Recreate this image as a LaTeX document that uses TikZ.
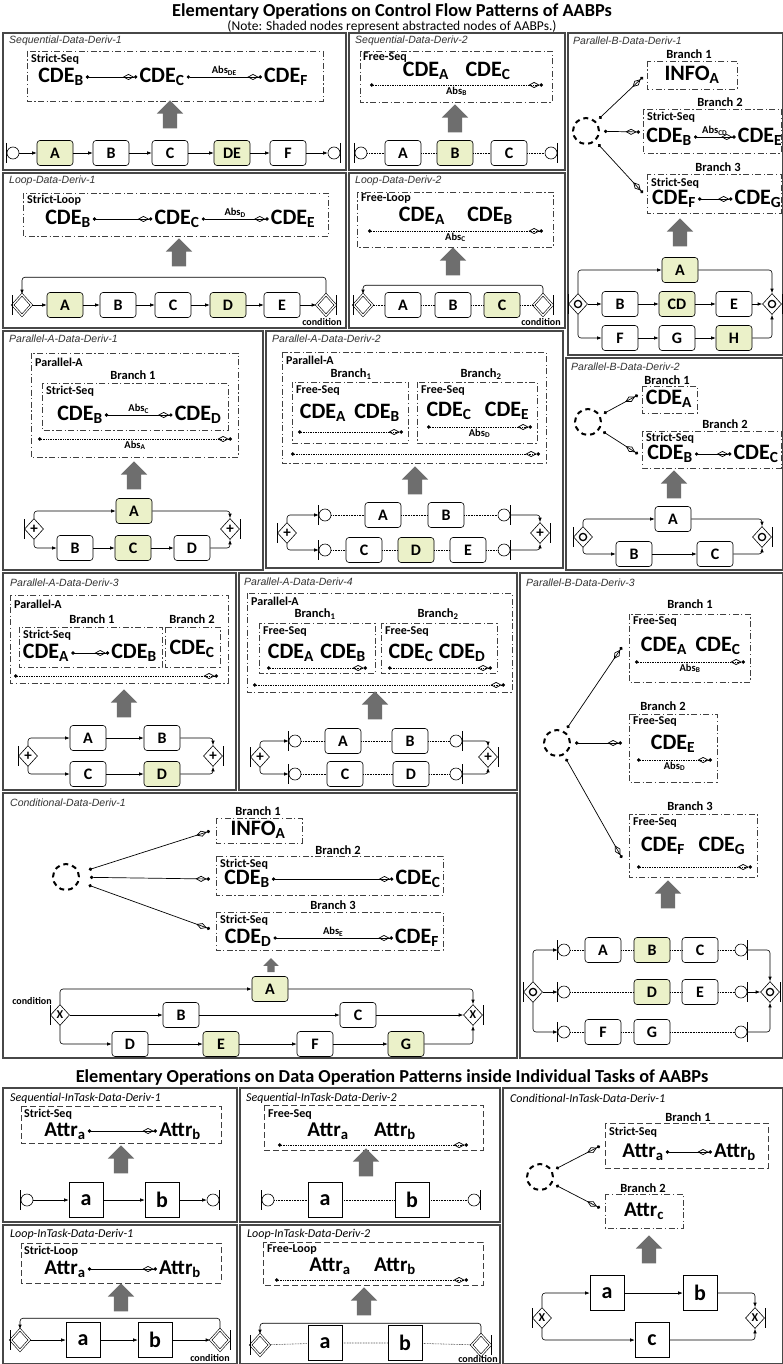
\documentclass[tikz,border=0pt]{standalone}
\usepackage{fontspec}
\setmainfont{Carlito}
\newfontfamily\arialfont{Liberation Sans}
\usetikzlibrary{arrows.meta, shapes.geometric, shapes.arrows}
\definecolor{shade}{RGB}{235,241,201}
\definecolor{arrgray}{RGB}{110,110,110}

\begin{document}
\begin{tikzpicture}[x=1pt, y=-1pt,
    panel/.style={draw=black!72, line width=1.1pt},
    frm/.style={draw=black!75, line width=0.6pt, dash pattern=on 6pt off 2.5pt on 1.2pt off 2.5pt},
    frmd/.style={draw=black!75, line width=0.6pt, dash pattern=on 6pt off 3pt},
    ptitle/.style={anchor=west, inner sep=0pt, text=black!80, font=\arialfont\itshape\fontsize{10.5}{11}\selectfont},
    ptitleb/.style={anchor=west, inner sep=0pt, font=\itshape\fontsize{12}{12}\selectfont},
    head/.style={anchor=base, font=\bfseries\fontsize{18.3}{19}\selectfont},
    note/.style={anchor=base, font=\fontsize{13.5}{14}\selectfont},
    tag/.style={anchor=west, inner sep=0pt, font=\bfseries\fontsize{12}{12}\selectfont},
    brl/.style={inner sep=0pt, font=\bfseries\fontsize{12.5}{12.5}\selectfont},
    cde/.style={inner sep=2pt, font=\bfseries\fontsize{22}{22}\selectfont},
    attr/.style={inner sep=2pt, font=\bfseries\fontsize{21}{21}\selectfont},
    abs/.style={inner sep=1.5pt, font=\bfseries\fontsize{10.5}{10.5}\selectfont},
    cond/.style={inner sep=0pt, font=\bfseries\fontsize{10}{10}\selectfont},
    task/.style={draw, rounded corners=3pt, fill=white, minimum width=36, minimum height=25, inner sep=0pt, line width=0.6pt, font=\bfseries\fontsize{16}{16}\selectfont},
    sqtask/.style={draw, fill=white, minimum width=34, minimum height=35, inner sep=0pt, line width=0.6pt, font=\bfseries\fontsize{22}{22}\selectfont},
    shd/.style={fill=shade},
    ev/.style={circle, draw, fill=white, minimum size=12, inner sep=0pt, line width=0.6pt},
    gw/.style={diamond, draw, fill=white, minimum width=19, minimum height=21, inner sep=0pt, line width=0.6pt},
    pgw/.style={gw, font=\bfseries\fontsize{15}{15}\selectfont},
    xgw/.style={gw, font=\bfseries\fontsize{12}{12}\selectfont},
    orgw/.style={gw, path picture={\draw[line width=1.3pt] (path picture bounding box.center) circle[radius=3.6pt];}},
    lgw/.style={gw, double, double distance=1.3pt},
    barL/.style={append after command={([yshift=10pt]\tikzlastnode.west) edge[line width=0.6pt] ([yshift=-10pt]\tikzlastnode.west)}},
    barR/.style={append after command={([yshift=10pt]\tikzlastnode.east) edge[line width=0.6pt] ([yshift=-10pt]\tikzlastnode.east)}},
    dcirc/.style={circle, draw, line width=2pt, dash pattern=on 5pt off 4pt, minimum size=26, inner sep=0pt, outer sep=5pt},
    bigup/.style={single arrow, fill=arrgray, draw=none, inner sep=7pt, minimum height=28, minimum width=0pt, single arrow head extend=6pt, shape border rotate=90},
    smallup/.style={single arrow, fill=arrgray, draw=none, inner sep=3.5pt, minimum height=14, minimum width=0pt, single arrow head extend=4pt, shape border rotate=90},
    cf/.style={-{Latex[length=4.5pt,width=3.5pt]}, line width=0.6pt, rounded corners=3pt},
    df/.style={line width=0.6pt, densely dotted},
    dlink/.style={{Circle[length=3.4pt]}-{Diamond[open,length=11pt,width=6pt]Circle[length=3.4pt]}, line width=0.7pt},
    dlinkd/.style={dlink, densely dotted}
]
    \useasboundingbox (0,0) rectangle (783,1364);
    \fill[white] (0,0) rectangle (783,1364);

    % === Titles ===
    \node[head] (title1) at (392,17) {Elementary Operations on Control Flow Patterns of AABPs};
    \node[note] (note1) at (392,30.5) {(Note: Shaded nodes represent abstracted nodes of AABPs.)};

    % === Sequential-Data-Deriv-1 ===
    \draw[panel] (3,33) rectangle (346,170);
    \node[ptitle] (sq1t) at (9,41) {Sequential-Data-Deriv-1};
    \draw[frm] (27,51) rectangle (323,101);
    \node[tag] (sq1k) at (31,59) {Strict-Seq};
    \node[cde] (sq1b) at (61,77) {CDE\textsubscript{B}};
    \node[cde] (sq1c) at (162,77) {CDE\textsubscript{C}};
    \node[cde] (sq1f) at (286,77) {CDE\textsubscript{F}};
    \draw[dlink] (sq1b) -- (sq1c);
    \draw[dlink] (sq1c) -- node[abs, above] {Abs\textsubscript{DE}} (sq1f);
    \node[bigup] (sq1u) at (170,118) {};
    \node[ev, barL] (sq1s) at (13,153) {};
    \node[task, shd] (sq1A) at (55,153) {A};
    \node[task] (sq1B) at (111,153) {B};
    \node[task] (sq1C) at (170,153) {C};
    \node[task, shd] (sq1D) at (232,153) {DE};
    \node[task] (sq1F) at (288,153) {F};
    \node[ev, barR] (sq1e) at (334,153) {};
    \draw[cf] (sq1s) edge (sq1A) (sq1A) edge (sq1B) (sq1B) edge (sq1C)
        (sq1C) edge (sq1D) (sq1D) edge (sq1F) (sq1F) edge (sq1e);

    % === Sequential-Data-Deriv-2 ===
    \draw[panel] (349,33) rectangle (565,170);
    \node[ptitle] (sq2t) at (355,41) {Sequential-Data-Deriv-2};
    \draw[frm] (360,51) rectangle (552,102);
    \node[tag] (sq2k) at (363,58) {Free-Seq};
    \node[cde] (sq2a) at (426,71) {CDE\textsubscript{A}};
    \node[cde] (sq2c) at (488,71) {CDE\textsubscript{C}};
    \coordinate (sq2l) at (370,85);
    \coordinate (sq2r) at (543,85);
    \draw[dlinkd] (sq2l) -- node[abs, below] {Abs\textsubscript{B}} (sq2r);
    \node[bigup] (sq2u) at (455,122) {};
    \node[ev, barL] (sq2s) at (361,153) {};
    \node[task] (sq2A) at (403,153) {A};
    \node[task, shd] (sq2B) at (455,153) {B};
    \node[task] (sq2C) at (509,153) {C};
    \node[ev, barR] (sq2e) at (551,153) {};
    \draw[df] (sq2s) -- (sq2A) (sq2A) -- (sq2B) (sq2B) -- (sq2C) (sq2C) -- (sq2e);

    % === Parallel-B-Data-Deriv-1 ===
    \draw[panel] (568,33) rectangle (783,355);
    \node[ptitle] (pb1t) at (573,41) {Parallel-B-Data-Deriv-1};
    \node[dcirc] (pb1o) at (586,131) {};
    % Branch 1
    \node[brl] (pb1l1) at (689,54) {Branch 1};
    \draw[frm] (647,61) rectangle (737,89);
    \node[cde] (pb1i) at (692,75) {INFO\textsubscript{A}};
    \coordinate (pb1x1) at (643,77);
    \draw[dlink] (pb1o) -- (pb1x1);
    % Branch 2
    \node[brl] (pb1l2) at (720,102) {Branch 2};
    \draw[frm] (643,109) rectangle (781,153);
    \node[tag] (pb1k2) at (647,117) {Strict-Seq};
    \node[cde] (pb1b) at (669,137) {CDE\textsubscript{B}};
    \node[cde] (pb1e) at (760,137) {CDE\textsubscript{E}};
    \draw[dlink] (pb1b) -- node[abs, above] {Abs\textsubscript{CD}} (pb1e);
    \coordinate (pb1x2) at (640,132);
    \draw[dlink] (pb1o) -- (pb1x2);
    % Branch 3
    \node[brl] (pb1l3) at (718,167) {Branch 3};
    \draw[frm] (647,174) rectangle (781,213);
    \node[tag] (pb1k3) at (651,183) {Strict-Seq};
    \node[cde] (pb1f) at (674,199) {CDE\textsubscript{F}};
    \node[cde] (pb1g) at (758,199) {CDE\textsubscript{G}};
    \draw[dlink] (pb1f) -- (pb1g);
    \coordinate (pb1x3) at (643,193);
    \draw[dlink] (pb1o) -- (pb1x3);
    \node[bigup] (pb1u) at (680,236) {};
    % process
    \node[task, shd] (pb1A) at (680,270) {A};
    \node[orgw, barL] (pb1s) at (578,304) {};
    \node[task] (pb1B) at (620,304) {B};
    \node[task, shd] (pb1C) at (677,304) {CD};
    \node[task] (pb1E) at (734,304) {E};
    \node[orgw, barR] (pb1j) at (772,304) {};
    \node[task] (pb1F) at (620,338) {F};
    \node[task] (pb1G) at (677,338) {G};
    \node[task, shd] (pb1H) at (734,338) {H};
    \draw[cf] (pb1s.north) |- (pb1A);
    \draw[cf] (pb1A) -| (pb1j.north);
    \draw[cf] (pb1s) edge (pb1B) (pb1B) edge (pb1C) (pb1C) edge (pb1E) (pb1E) edge (pb1j);
    \draw[cf] (pb1s.south) |- (pb1F);
    \draw[cf] (pb1F) edge (pb1G) (pb1G) edge (pb1H);
    \draw[cf] (pb1H) -| (pb1j.south);

    % === Loop-Data-Deriv-1 ===
    \draw[panel] (3,173) rectangle (346,328);
    \node[ptitle] (lp1t) at (9,181) {Loop-Data-Deriv-1};
    \draw[frm] (23,193) rectangle (328,236);
    \node[tag] (lp1k) at (27,200) {Strict-Loop};
    \node[cde] (lp1b) at (68,219) {CDE\textsubscript{B}};
    \node[cde] (lp1c) at (177,219) {CDE\textsubscript{C}};
    \node[cde] (lp1e) at (293,219) {CDE\textsubscript{E}};
    \draw[dlink] (lp1b) -- (lp1c);
    \draw[dlink] (lp1c) -- node[abs, above] {Abs\textsubscript{D}} (lp1e);
    \node[bigup] (lp1u) at (179,256) {};
    \node[lgw, barL] (lp1s) at (22,305) {};
    \node[task, shd] (lp1A) at (65,305) {A};
    \node[task] (lp1B) at (118,305) {B};
    \node[task] (lp1C) at (173,305) {C};
    \node[task, shd] (lp1D) at (228,305) {D};
    \node[task] (lp1E) at (282,305) {E};
    \node[lgw, barR] (lp1j) at (326,305) {};
    \node[cond] (lp1n) at (322,322) {condition};
    \draw[cf] (lp1s) edge (lp1A) (lp1A) edge (lp1B) (lp1B) edge (lp1C)
        (lp1C) edge (lp1D) (lp1D) edge (lp1E) (lp1E) edge (lp1j);
    \draw[cf] (lp1j.north) -- ++(0,-17) -| (lp1s.north);

    % === Loop-Data-Deriv-2 ===
    \draw[panel] (349,173) rectangle (565,328);
    \node[ptitle] (lp2t) at (355,181) {Loop-Data-Deriv-2};
    \draw[frm] (357,192) rectangle (553,247);
    \node[tag] (lp2k) at (361,199) {Free-Loop};
    \node[cde] (lp2a) at (422,216) {CDE\textsubscript{A}};
    \node[cde] (lp2b) at (490,216) {CDE\textsubscript{B}};
    \coordinate (lp2l) at (368,231);
    \coordinate (lp2r) at (543,231);
    \draw[dlinkd] (lp2l) -- node[abs, below] {Abs\textsubscript{C}} (lp2r);
    \node[bigup] (lp2u) at (453,265) {};
    \node[lgw, barL] (lp2s) at (363,305) {};
    \node[task] (lp2A) at (403,305) {A};
    \node[task] (lp2B) at (453,305) {B};
    \node[task, shd] (lp2C) at (502,305) {C};
    \node[lgw, barR] (lp2j) at (543,305) {};
    \node[cond] (lp2n) at (541,322) {condition};
    \draw[df] (lp2s) -- (lp2A) (lp2A) -- (lp2B) (lp2B) -- (lp2C) (lp2C) -- (lp2j);
    \draw[cf] (lp2j.north) -- ++(0,-9) -| (lp2s.north);

    % === Parallel-A-Data-Deriv-1 ===
    \draw[panel] (3,331) rectangle (263,570);
    \node[ptitle] (pa1t) at (9,339) {Parallel-A-Data-Deriv-1};
    \draw[frm] (31,353) rectangle (238,457);
    \node[tag] (pa1k) at (35,362) {Parallel-A};
    \node[brl] (pa1l) at (133,375) {Branch 1};
    \draw[frm] (42,383) rectangle (228,430);
    \node[tag] (pa1k2) at (46,391) {Strict-Seq};
    \node[cde] (pa1b) at (80,415) {CDE\textsubscript{B}};
    \node[cde] (pa1d) at (198,415) {CDE\textsubscript{D}};
    \draw[dlink] (pa1b) -- node[abs, above] {Abs\textsubscript{C}} (pa1d);
    \coordinate (pa1x) at (38,439);
    \coordinate (pa1y) at (232,439);
    \draw[dlinkd] (pa1x) -- node[abs, below] {Abs\textsubscript{A}} (pa1y);
    \node[bigup] (pa1u) at (134,479) {};
    \node[task, shd] (pa1A) at (134,511) {A};
    \node[pgw, barL] (pa1s) at (34,529) {+};
    \node[task] (pa1B) at (75,548) {B};
    \node[task, shd] (pa1C) at (133,548) {C};
    \node[task] (pa1D) at (192,548) {D};
    \node[pgw, barR] (pa1j) at (230,529) {+};
    \draw[cf] (pa1s.north) |- (pa1A);
    \draw[cf] (pa1A) -| (pa1j.north);
    \draw[cf] (pa1s.south) |- (pa1B);
    \draw[cf] (pa1B) edge (pa1C) (pa1C) edge (pa1D);
    \draw[cf] (pa1D) -| (pa1j.south);

    % === Parallel-A-Data-Deriv-2 ===
    \draw[panel] (266,331) rectangle (563,568);
    \node[ptitle] (pa2t) at (272,339) {Parallel-A-Data-Deriv-2};
    \draw[frm] (282,352) rectangle (546,463);
    \node[tag] (pa2k) at (286,360) {Parallel-A};
    \node[brl] (pa2l1) at (351,374) {Branch\textsubscript{1}};
    \draw[frm] (292,382) rectangle (408,443);
    \node[tag] (pa2k1) at (296,391) {Free-Seq};
    \node[cde] (pa2a) at (323,413) {CDE\textsubscript{A}};
    \node[cde] (pa2b) at (377,413) {CDE\textsubscript{B}};
    \coordinate (pa2x1) at (298,432);
    \coordinate (pa2y1) at (403,432);
    \draw[dlinkd] (pa2x1) -- (pa2y1);
    \node[brl] (pa2l2) at (481,374) {Branch\textsubscript{2}};
    \draw[frm] (417,382) rectangle (537,443);
    \node[tag] (pa2k2) at (421,391) {Free-Seq};
    \node[cde] (pa2c) at (449,411) {CDE\textsubscript{C}};
    \node[cde] (pa2e) at (507,411) {CDE\textsubscript{E}};
    \coordinate (pa2x2) at (427,427);
    \coordinate (pa2y2) at (532,427);
    \draw[dlinkd] (pa2x2) -- node[abs, below] {Abs\textsubscript{D}} (pa2y2);
    \coordinate (pa2x3) at (291,454);
    \coordinate (pa2y3) at (540,454);
    \draw[dlinkd] (pa2x3) -- (pa2y3);
    \node[bigup] (pa2u) at (415,484) {};
    \node[pgw, barL] (pa2s) at (287,533) {+};
    \node[ev, barL] (pa2s1) at (325,515) {};
    \node[task] (pa2A) at (383,515) {A};
    \node[task] (pa2B) at (446,515) {B};
    \node[ev, barR] (pa2e1) at (504,515) {};
    \node[ev, barL] (pa2s2) at (325,550) {};
    \node[task] (pa2C) at (364,550) {C};
    \node[task, shd] (pa2D) at (416,550) {D};
    \node[task] (pa2E) at (468,550) {E};
    \node[ev, barR] (pa2e2) at (504,550) {};
    \node[pgw, barR] (pa2j) at (540,533) {+};
    \draw[cf] (pa2s.north) |- (pa2s1);
    \draw[cf] (pa2s.south) |- (pa2s2);
    \draw[df] (pa2s1) -- (pa2A) (pa2A) -- (pa2B) (pa2B) -- (pa2e1);
    \draw[df] (pa2s2) -- (pa2C) (pa2C) -- (pa2D) (pa2D) -- (pa2E) (pa2E) -- (pa2e2);
    \draw[cf] (pa2e1) -| (pa2j.north);
    \draw[cf] (pa2e2) -| (pa2j.south);

    % === Parallel-B-Data-Deriv-2 ===
    \draw[panel] (566,358) rectangle (783,570);
    \node[ptitle] (pb2t) at (571,367) {Parallel-B-Data-Deriv-2};
    \node[dcirc] (pb2o) at (588,422) {};
    \node[brl] (pb2l1) at (667,380) {Branch 1};
    \draw[frm] (642,386) rectangle (697,413);
    \node[cde] (pb2a) at (669,399) {CDE\textsubscript{A}};
    \coordinate (pb2x1) at (638,395);
    \draw[dlink] (pb2o) -- (pb2x1);
    \node[brl] (pb2l2) at (725,424) {Branch 2};
    \draw[frm] (642,431) rectangle (781,468);
    \node[tag] (pb2k) at (646,438) {Strict-Seq};
    \node[cde] (pb2b) at (670,454) {CDE\textsubscript{B}};
    \node[cde] (pb2c) at (756,454) {CDE\textsubscript{C}};
    \draw[dlink] (pb2b) -- (pb2c);
    \coordinate (pb2x2) at (638,454);
    \draw[dlink] (pb2o) -- (pb2x2);
    \node[bigup] (pb2u) at (674,488) {};
    \node[task] (pb2A) at (673,519) {A};
    \node[orgw, barL] (pb2s) at (583,537) {};
    \node[task] (pb2B) at (634,554) {B};
    \node[task] (pb2C) at (715,554) {C};
    \node[orgw, barR] (pb2j) at (762,537) {};
    \draw[cf] (pb2s.north) |- (pb2A);
    \draw[cf] (pb2A) -| (pb2j.north);
    \draw[cf] (pb2s.south) |- (pb2B);
    \draw[cf] (pb2B) -- (pb2C);
    \draw[cf] (pb2C) -| (pb2j.south);

    % === Parallel-A-Data-Deriv-3 ===
    \draw[panel] (3,573) rectangle (236,790);
    \node[ptitle] (pa3t) at (10,583) {Parallel-A-Data-Deriv-3};
    \draw[frm] (10,595) rectangle (228,683);
    \node[tag] (pa3k) at (14,604) {Parallel-A};
    \node[brl] (pa3l1) at (92,619) {Branch 1};
    \node[brl] (pa3l2) at (192,619) {Branch 2};
    \draw[frm] (19,627) rectangle (162,667);
    \draw[frm] (165,627) rectangle (220,667);
    \node[tag] (pa3k1) at (23,635) {Strict-Seq};
    \node[cde] (pa3a) at (46,653) {CDE\textsubscript{A}};
    \node[cde] (pa3b) at (134,653) {CDE\textsubscript{B}};
    \draw[dlink] (pa3a) -- (pa3b);
    \node[cde] (pa3c) at (192,649) {CDE\textsubscript{C}};
    \coordinate (pa3x) at (14,676);
    \coordinate (pa3y) at (218,676);
    \draw[dlinkd] (pa3x) -- (pa3y);
    \node[bigup] (pa3u) at (124,707) {};
    \node[pgw, barL] (pa3s) at (28,756) {+};
    \node[task] (pa3A) at (88,738) {A};
    \node[task] (pa3B) at (162,738) {B};
    \node[task] (pa3C) at (88,774) {C};
    \node[task, shd] (pa3D) at (162,774) {D};
    \node[pgw, barR] (pa3j) at (213,756) {+};
    \draw[cf] (pa3s.north) |- (pa3A);
    \draw[cf] (pa3A) -- (pa3B);
    \draw[cf] (pa3B) -| (pa3j.north);
    \draw[cf] (pa3s.south) |- (pa3C);
    \draw[cf] (pa3C) -- (pa3D);
    \draw[cf] (pa3D) -| (pa3j.south);

    % === Parallel-A-Data-Deriv-4 ===
    \draw[panel] (239,573) rectangle (517,790);
    \node[ptitle] (pa4t) at (244,582) {Parallel-A-Data-Deriv-4};
    \draw[frm] (247,593) rectangle (512,692);
    \node[tag] (pa4k) at (251,601) {Parallel-A};
    \node[brl] (pa4l1) at (315,614) {Branch\textsubscript{1}};
    \node[brl] (pa4l2) at (438,614) {Branch\textsubscript{2}};
    \draw[frm] (259,623) rectangle (375,673);
    \draw[frm] (381,623) rectangle (497,673);
    \node[tag] (pa4k1) at (263,632) {Free-Seq};
    \node[tag] (pa4k2) at (385,632) {Free-Seq};
    \node[cde] (pa4a) at (291,653) {CDE\textsubscript{A}};
    \node[cde] (pa4b) at (343,653) {CDE\textsubscript{B}};
    \node[cde] (pa4c) at (411,653) {CDE\textsubscript{C}};
    \node[cde] (pa4d) at (462,653) {CDE\textsubscript{D}};
    \coordinate (pa4x1) at (267,668);
    \coordinate (pa4y1) at (367,668);
    \draw[dlinkd] (pa4x1) -- (pa4y1);
    \coordinate (pa4x2) at (388,668);
    \coordinate (pa4y2) at (492,668);
    \draw[dlinkd] (pa4x2) -- (pa4y2);
    \coordinate (pa4x3) at (253,685);
    \coordinate (pa4y3) at (505,685);
    \draw[dlinkd] (pa4x3) -- (pa4y3);
    \node[bigup] (pa4u) at (375,709) {};
    \node[pgw, barL] (pa4s) at (260,757) {+};
    \node[ev, barL] (pa4s1) at (295,741) {};
    \node[task] (pa4A) at (343,741) {A};
    \node[task] (pa4B) at (410,741) {B};
    \node[ev, barR] (pa4e1) at (456,741) {};
    \node[ev, barL] (pa4s2) at (295,774) {};
    \node[task] (pa4C) at (345,774) {C};
    \node[task] (pa4D) at (411,774) {D};
    \node[ev, barR] (pa4e2) at (456,774) {};
    \node[pgw, barR] (pa4j) at (488,757) {+};
    \draw[cf] (pa4s.north) |- (pa4s1);
    \draw[cf] (pa4s.south) |- (pa4s2);
    \draw[df] (pa4s1) -- (pa4A) (pa4A) -- (pa4B) (pa4B) -- (pa4e1);
    \draw[df] (pa4s2) -- (pa4C) (pa4C) -- (pa4D) (pa4D) -- (pa4e2);
    \draw[cf] (pa4e1) -| (pa4j.north);
    \draw[cf] (pa4e2) -| (pa4j.south);

    % === Parallel-B-Data-Deriv-3 ===
    \draw[panel] (520,573) rectangle (783,1058);
    \node[ptitle] (pb3t) at (526,583) {Parallel-B-Data-Deriv-3};
    \node[dcirc] (pb3o) at (557,743) {};
    \node[brl] (pb3l1) at (690,604) {Branch 1};
    \draw[frm] (629,614) rectangle (750,682);
    \node[tag] (pb3k1) at (633,622) {Free-Seq};
    \node[cde] (pb3a) at (664,646) {CDE\textsubscript{A}};
    \node[cde] (pb3c) at (718,646) {CDE\textsubscript{C}};
    \coordinate (pb3m1) at (635,662);
    \coordinate (pb3n1) at (745,662);
    \draw[dlinkd] (pb3m1) -- node[abs, below] {Abs\textsubscript{B}} (pb3n1);
    \coordinate (pb3x1) at (622,647);
    \draw[dlink] (pb3o) -- (pb3x1);
    \node[brl] (pb3l2) at (663,706) {Branch 2};
    \draw[frm] (629,714) rectangle (717,782);
    \node[tag] (pb3k2) at (633,722) {Free-Seq};
    \node[cde] (pb3e) at (673,744) {CDE\textsubscript{E}};
    \coordinate (pb3m2) at (637,760);
    \coordinate (pb3n2) at (712,760);
    \draw[dlinkd] (pb3m2) -- node[abs, below] {Abs\textsubscript{D}} (pb3n2);
    \coordinate (pb3x2) at (622,743);
    \draw[dlink] (pb3o) -- (pb3x2);
    \node[brl] (pb3l3) at (690,806) {Branch 3};
    \draw[frm] (629,814) rectangle (757,877);
    \node[tag] (pb3k3) at (633,822) {Free-Seq};
    \node[cde] (pb3f) at (663,846) {CDE\textsubscript{F}};
    \node[cde] (pb3g) at (722,846) {CDE\textsubscript{G}};
    \coordinate (pb3m3) at (637,867);
    \coordinate (pb3n3) at (752,867);
    \draw[dlinkd] (pb3m3) -- (pb3n3);
    \coordinate (pb3x3) at (622,858);
    \draw[dlink] (pb3o) -- (pb3x3);
    \node[bigup] (pb3u) at (668,898) {};
    % process
    \node[orgw, barL] (pb3s) at (533,992) {};
    \node[ev, barL] (pb3s1) at (564,950) {};
    \node[task] (pb3A) at (603,950) {A};
    \node[task, shd] (pb3B) at (652,950) {B};
    \node[task] (pb3C) at (700,950) {C};
    \node[ev, barR] (pb3e1) at (741,950) {};
    \node[ev, barL] (pb3s2) at (564,992) {};
    \node[task, shd] (pb3D) at (652,992) {D};
    \node[task] (pb3E) at (700,992) {E};
    \node[ev, barR] (pb3e2) at (741,992) {};
    \node[ev, barL] (pb3s3) at (564,1032) {};
    \node[task] (pb3F) at (603,1032) {F};
    \node[task] (pb3G) at (652,1032) {G};
    \node[ev, barR] (pb3e3) at (741,1032) {};
    \node[orgw, barR] (pb3j) at (770,992) {};
    \draw[cf] (pb3s.north) |- (pb3s1);
    \draw[cf] (pb3s) -- (pb3s2);
    \draw[cf] (pb3s.south) |- (pb3s3);
    \draw[df] (pb3s1) -- (pb3A) (pb3A) -- (pb3B) (pb3B) -- (pb3C) (pb3C) -- (pb3e1);
    \draw[df] (pb3s2) -- (pb3D) (pb3D) -- (pb3E) (pb3E) -- (pb3e2);
    \draw[df] (pb3s3) -- (pb3F) (pb3F) -- (pb3G) (pb3G) -- (pb3e3);
    \draw[cf] (pb3e1) -| (pb3j.north);
    \draw[cf] (pb3e2) -- (pb3j);
    \draw[cf] (pb3e3) -| (pb3j.south);

    % === Conditional-Data-Deriv-1 ===
    \draw[panel] (3,793) rectangle (517,1058);
    \node[ptitle] (cd1t) at (10,803) {Conditional-Data-Deriv-1};
    \node[dcirc] (cd1o) at (66,877) {};
    \node[brl] (cd1l1) at (258,811) {Branch 1};
    \draw[frm] (216,818) rectangle (302,843);
    \node[cde] (cd1i) at (258,830) {INFO\textsubscript{A}};
    \coordinate (cd1x1) at (210,831);
    \draw[dlink, shorten <=6pt] (cd1o) -- (cd1x1);
    \node[brl] (cd1l2) at (338,850) {Branch 2};
    \draw[frm] (216,856) rectangle (443,895);
    \node[tag] (cd1k2) at (220,864) {Strict-Seq};
    \node[cde] (cd1b) at (247,879) {CDE\textsubscript{B}};
    \node[cde] (cd1c) at (418,879) {CDE\textsubscript{C}};
    \draw[dlink] (cd1b) -- (cd1c);
    \coordinate (cd1x2) at (210,879);
    \draw[dlink, shorten <=6pt] (cd1o) -- (cd1x2);
    \node[brl] (cd1l3) at (333,905) {Branch 3};
    \draw[frm] (216,912) rectangle (443,950);
    \node[tag] (cd1k3) at (220,920) {Strict-Seq};
    \node[cde] (cd1d) at (248,938) {CDE\textsubscript{D}};
    \node[cde] (cd1f) at (417,938) {CDE\textsubscript{F}};
    \draw[dlink] (cd1d) -- node[abs, above] {Abs\textsubscript{E}} (cd1f);
    \coordinate (cd1x3) at (210,929);
    \draw[dlink, shorten <=6pt] (cd1o) -- (cd1x3);
    \node[smallup] (cd1u) at (271,967) {};
    \node[task, shd] (cd1A) at (270,989) {A};
    \node[xgw, barL] (cd1s) at (60,1015) {X};
    \node[cond] (cd1n) at (32,1001) {condition};
    \node[task] (cd1B) at (181,1015) {B};
    \node[task] (cd1C) at (358,1015) {C};
    \node[xgw, barR] (cd1j) at (473,1015) {X};
    \node[task] (cd1D) at (130,1044) {D};
    \node[task, shd] (cd1E) at (221,1044) {E};
    \node[task] (cd1F) at (315,1044) {F};
    \node[task, shd] (cd1G) at (406,1044) {G};
    \draw[cf] (cd1s.north) |- (cd1A);
    \draw[cf] (cd1A) -| (cd1j.north);
    \draw[cf] (cd1s) edge (cd1B) (cd1B) edge (cd1C) (cd1C) edge (cd1j);
    \draw[cf] (cd1s.south) |- (cd1D);
    \draw[cf] (cd1D) edge (cd1E) (cd1E) edge (cd1F) (cd1F) edge (cd1G);
    \draw[cf] (cd1G) -| (cd1j.south);

    % === Second title ===
    \node[head] (title2) at (392,1082) {Elementary Operations on Data Operation Patterns inside Individual Tasks of AABPs};

    % === Sequential-InTask-Data-Deriv-1 ===
    \draw[panel] (3,1088) rectangle (237,1222);
    \node[ptitleb] (it1t) at (10,1098) {Sequential-InTask-Data-Deriv-1};
    \draw[frmd] (21,1106) rectangle (221,1143);
    \node[tag] (it1k) at (24,1114) {Strict-Seq};
    \node[attr] (it1a) at (65,1131) {Attr\textsubscript{a}};
    \node[attr] (it1b) at (180,1131) {Attr\textsubscript{b}};
    \draw[dlink] (it1a) -- (it1b);
    \node[bigup] (it1u) at (121,1163) {};
    \node[ev, barL] (it1s) at (27,1200) {};
    \node[sqtask] (it1A) at (86,1200) {a};
    \node[sqtask] (it1B) at (162,1200) {b};
    \node[ev, barR] (it1e) at (213,1200) {};
    \draw[cf] (it1s) edge (it1A) (it1A) edge (it1B) (it1B) edge (it1e);

    % === Sequential-InTask-Data-Deriv-2 ===
    \draw[panel] (240,1088) rectangle (500,1222);
    \node[ptitleb] (it2t) at (246,1098) {Sequential-InTask-Data-Deriv-2};
    \draw[frmd] (264,1105) rectangle (483,1150);
    \node[tag] (it2k) at (268,1114) {Free-Seq};
    \node[attr] (it2a) at (328,1131) {Attr\textsubscript{a}};
    \node[attr] (it2b) at (395,1131) {Attr\textsubscript{b}};
    \coordinate (it2x) at (278,1145);
    \coordinate (it2y) at (468,1145);
    \draw[dlinkd] (it2x) -- (it2y);
    \node[bigup] (it2u) at (366,1166) {};
    \node[ev, barL] (it2s) at (268,1200) {};
    \node[sqtask] (it2A) at (325,1200) {a};
    \node[sqtask] (it2B) at (412,1200) {b};
    \node[ev, barR] (it2e) at (474,1200) {};
    \draw[df] (it2s) -- (it2A) (it2A) -- (it2B) (it2B) -- (it2e);

    % === Loop-InTask-Data-Deriv-1 ===
    \draw[panel] (3,1225) rectangle (237,1364);
    \node[ptitleb] (it3t) at (10,1234) {Loop-InTask-Data-Deriv-1};
    \draw[frmd] (21,1243) rectangle (221,1283);
    \node[tag] (it3k) at (24,1251) {Strict-Loop};
    \node[attr] (it3a) at (65,1269) {Attr\textsubscript{a}};
    \node[attr] (it3b) at (180,1269) {Attr\textsubscript{b}};
    \draw[dlink] (it3a) -- (it3b);
    \node[bigup] (it3u) at (121,1301) {};
    \node[lgw, barL] (it3s) at (20,1340) {};
    \node[sqtask] (it3A) at (83,1340) {a};
    \node[sqtask] (it3B) at (155,1340) {b};
    \node[lgw, barR] (it3j) at (220,1340) {};
    \node[cond] (it3n) at (210,1358) {condition};
    \draw[cf] (it3s) edge (it3A) (it3A) edge (it3B) (it3B) edge (it3j);
    \draw[cf] (it3j.north) -- ++(0,-11) -| (it3s.north);

    % === Loop-InTask-Data-Deriv-2 ===
    \draw[panel] (240,1225) rectangle (500,1364);
    \node[ptitleb] (it4t) at (247,1234) {Loop-InTask-Data-Deriv-2};
    \draw[frmd] (263,1242) rectangle (483,1285);
    \node[tag] (it4k) at (267,1250) {Free-Loop};
    \node[attr] (it4a) at (330,1266) {Attr\textsubscript{a}};
    \node[attr] (it4b) at (395,1266) {Attr\textsubscript{b}};
    \coordinate (it4x) at (275,1280);
    \coordinate (it4y) at (468,1280);
    \draw[dlinkd] (it4x) -- (it4y);
    \node[bigup] (it4u) at (364,1305) {};
    \node[lgw, barL] (it4s) at (260,1345) {};
    \node[sqtask] (it4A) at (325,1343) {a};
    \node[sqtask] (it4B) at (405,1343) {b};
    \node[lgw, barR] (it4j) at (481,1345) {};
    \node[cond] (it4n) at (478,1359) {condition};
    \draw[df] (it4s) -- (it4A) (it4A) -- (it4B) (it4B) -- (it4j);
    \draw[cf] (it4j.north) -- ++(0,-11) -| (it4s.north);

    % === Conditional-InTask-Data-Deriv-1 ===
    \draw[panel] (503,1088) rectangle (783,1364);
    \node[ptitleb] (it5t) at (510,1098) {Conditional-InTask-Data-Deriv-1};
    \node[dcirc] (it5o) at (540,1177) {};
    \node[brl] (it5l1) at (688,1117) {Branch 1};
    \draw[frmd] (605,1123) rectangle (768,1168);
    \node[tag] (it5k) at (609,1132) {Strict-Seq};
    \node[attr] (it5a) at (643,1152) {Attr\textsubscript{a}};
    \node[attr] (it5b) at (735,1152) {Attr\textsubscript{b}};
    \draw[dlink] (it5a) -- (it5b);
    \coordinate (it5x1) at (600,1146);
    \draw[dlink] (it5o) -- (it5x1);
    \node[brl] (it5l2) at (643,1188) {Branch 2};
    \draw[frm] (605,1194) rectangle (683,1228);
    \node[attr] (it5c) at (644,1211) {Attr\textsubscript{c}};
    \coordinate (it5x2) at (600,1208);
    \draw[dlink] (it5o) -- (it5x2);
    \node[bigup] (it5u) at (649,1253) {};
    \node[xgw, barL] (it5s) at (542,1318) {X};
    \node[sqtask] (it5A) at (607,1293) {a};
    \node[sqtask] (it5B) at (700,1293) {b};
    \node[sqtask] (it5C) at (652,1340) {c};
    \node[xgw, barR] (it5j) at (755,1318) {X};
    \draw[cf] (it5s.north) |- (it5A);
    \draw[cf] (it5A) -- (it5B);
    \draw[cf] (it5B) -| (it5j.north);
    \draw[cf] (it5s.south) |- (it5C);
    \draw[cf] (it5C) -| (it5j.south);

\end{tikzpicture}
\end{document}
